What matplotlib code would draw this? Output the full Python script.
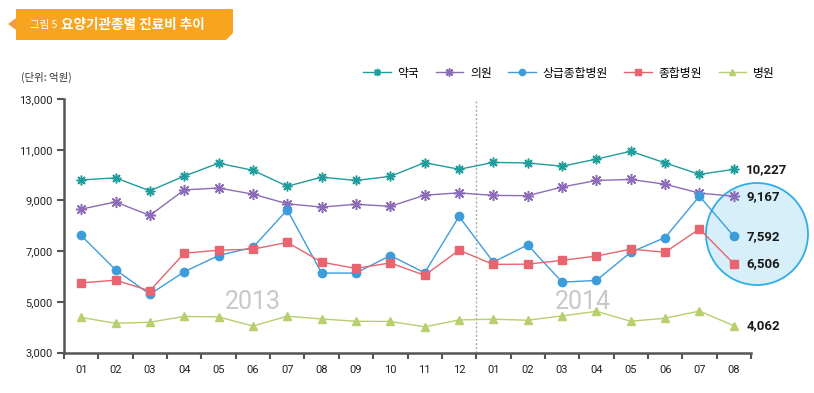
"""
요양기관종별 진료비 추이 (2013.01 ~ 2014.08)
"""

import numpy as np
import matplotlib
matplotlib.use('Agg')
import matplotlib.pyplot as plt
from matplotlib.patches import Polygon, Ellipse

plt.rcParams['font.family'] = ['Noto Sans CJK KR', 'DejaVu Sans']

# -------------데이터-------------
months = ['01', '02', '03', '04', '05', '06', '07', '08', '09', '10', '11', '12',
          '01', '02', '03', '04', '05', '06', '07', '08']
yak = [9810, 9890, 9380, 9960, 10470, 10190, 9560, 9920, 9790, 9950, 10490, 10230,
       10500, 10480, 10350, 10630, 10940, 10480, 10030, 10227]
eui = [8660, 8940, 8410, 9420, 9490, 9250, 8870, 8740, 8850, 8770, 9210, 9300,
       9200, 9190, 9530, 9790, 9830, 9640, 9290, 9167]
sang = [7620, 6270, 5300, 6190, 6830, 7150, 8630, 6140, 6140, 6830, 6150, 8370,
        6570, 7250, 5780, 5850, 6960, 7540, 9170, 7592]
jong = [5750, 5860, 5440, 6920, 7040, 7080, 7350, 6570, 6320, 6540, 6050, 7040,
        6480, 6490, 6640, 6810, 7080, 6960, 7880, 6506]
byung = [4390, 4160, 4200, 4430, 4410, 4050, 4440, 4330, 4240, 4230, 4020, 4290,
         4320, 4280, 4450, 4630, 4240, 4360, 4640, 4062]
names = ['약국', '의원', '상급종합병원', '종합병원', '병원']
years = ['2013', '2014']

W, H = 814, 393


# 픽셀 좌표 -> figure 좌표
def px(x, y):
    return (x / W, 1 - y / H)


fig = plt.figure(figsize=(W / 100, H / 100), dpi=100)
ax = fig.add_axes([64 / W, 1 - 352.7 / H, (751 - 64) / W, (352.7 - 99) / H])
ax.patch.set_visible(False)
ax.set_zorder(2)

x = np.arange(len(months))

# 강조 원 (마지막 값)
circ = Ellipse(px(757, 234), 102 / W, 102 / H, transform=fig.transFigure,
               facecolor='#d6effa', edgecolor='#2eaee4', linewidth=1.3, zorder=1)
fig.patches.append(circ)

series = [
    (yak, '#1f9c9c', (8, 2, 0), 7, 1.1),
    (eui, '#8c6bb9', (8, 2, 0), 8, 1.1),
    (sang, '#3d9ddb', 'o', 6, 1.0),
    (jong, '#e8646e', 's', 5.5, 1.0),
    (byung, '#b7cf6c', '^', 6, 1.0),
]
for (vals, col, mk, ms, mew), name in zip(series, names):
    ax.plot(x, vals, color=col, marker=mk, markersize=ms, markeredgewidth=mew,
            markeredgecolor=col, markerfacecolor=col, linewidth=1.0, label=name,
            clip_on=False, zorder=3)
    ax.annotate(f'{vals[-1]:,}', (x[-1], vals[-1]), xytext=(9, 0),
                textcoords='offset points', va='center', ha='left',
                fontsize=9.5, fontweight='bold', family=['Roboto', 'DejaVu Sans'],
                color='#1a1a1a', annotation_clip=False)

# 연도 구분선
ax.axvline(11.5, color='#aaaaaa', linestyle=(0, (1.5, 1.5)), linewidth=1.0, zorder=1)
ax.text(5.0, 5000, years[0], fontsize=18, color='#c8c8c8', ha='center', va='center',
        family=['Roboto', 'DejaVu Sans'])
ax.text(14.6, 5000, years[1], fontsize=18, color='#c8c8c8', ha='center', va='center',
        family=['Roboto', 'DejaVu Sans'])

# 축
ax.set_xlim(-0.5, 19.5)
ax.set_ylim(3000, 13000)
ax.set_yticks(range(3000, 13001, 2000))
ax.set_yticklabels([f'{v:,}' for v in range(3000, 13001, 2000)])
ax.set_xticks(x)
ax.set_xticklabels(months)
ax.set_xticks(np.arange(-0.5, 20, 1), minor=True)
ax.tick_params(axis='x', which='major', length=0, pad=9, labelsize=8, labelcolor='#222222')
ax.tick_params(axis='x', which='minor', length=4, width=1.5, color='#555555', direction='out')
ax.tick_params(axis='y', length=5, width=1.5, color='#555555', labelsize=8,
               labelcolor='#222222', pad=3)
for lab in ax.get_xticklabels() + ax.get_yticklabels():
    lab.set_family(['Roboto', 'DejaVu Sans'])
for s in ['top', 'right']:
    ax.spines[s].set_visible(False)
for s in ['left', 'bottom']:
    ax.spines[s].set_color('#555555')
    ax.spines[s].set_linewidth(1.8)

# 범례
ax.legend(loc='center', bbox_to_anchor=(569 / W, 1 - 73 / H), bbox_transform=fig.transFigure,
          ncol=5, frameon=False, fontsize=8.5, handlelength=2.3, columnspacing=1.4,
          handletextpad=0.6, markerscale=0.75)

# 제목 배너
fig.patches.append(Polygon([px(16, 9), px(233, 9), px(233, 33), px(226, 40), px(16, 40)],
                           closed=True, transform=fig.transFigure, facecolor='#f7a520',
                           edgecolor='none'))
fig.patches.append(Polygon([px(8, 24), px(16, 18), px(16, 30)], closed=True,
                           transform=fig.transFigure, facecolor='#f29b45', edgecolor='none'))
fig.text(*px(30, 25), '그림 5', color='white', fontsize=7.5, va='center', ha='left')
fig.text(*px(61, 24.5), '요양기관종별 진료비 추이', color='white', fontsize=9.8,
         fontweight='bold', va='center', ha='left')
fig.text(*px(21, 77), '(단위: 억원)', color='#333333', fontsize=7.5, va='center', ha='left')

fig.savefig('out.png', dpi=100)
